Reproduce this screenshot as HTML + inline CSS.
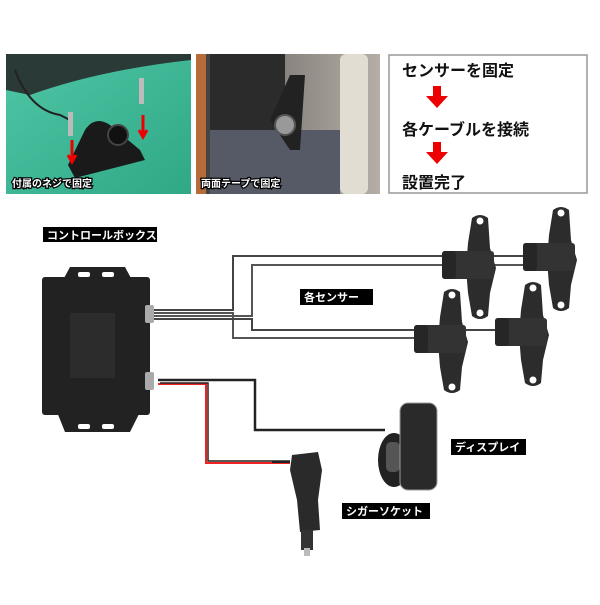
<!DOCTYPE html>
<html><head><meta charset="utf-8"><style>
body{margin:0;background:#fff;width:600px;height:600px;overflow:hidden;font-family:"Liberation Sans","Noto Sans CJK JP",sans-serif}
</style></head><body>
<svg width="600" height="600" xmlns="http://www.w3.org/2000/svg" font-family="Liberation Sans, Noto Sans CJK JP, sans-serif">
<defs>
<linearGradient id="tl" x1="0" y1="0" x2="1" y2="1"><stop offset="0" stop-color="#4fc6a6"/><stop offset="1" stop-color="#2fa886"/></linearGradient>
<linearGradient id="gr" x1="0" y1="0" x2="1" y2="0"><stop offset="0" stop-color="#3a3a3a"/><stop offset=".5" stop-color="#8a8580"/><stop offset="1" stop-color="#b5aea6"/></linearGradient>
<g id="sen">
<path d="M-8 0 Q0 -6 8 0 L10 30 L16 50 L10 75 L8 98 Q0 104 -8 98 L-12 75 L-14 50 L-12 25Z" fill="#2c2c2c"/>
<circle cx="0" cy="3" r="3.5" fill="#fff"/><circle cx="0" cy="95" r="3.5" fill="#fff"/>
<rect x="-38" y="33" width="52" height="28" rx="3" fill="#333"/>
<rect x="-38" y="33" width="14" height="28" rx="3" fill="#262626"/>
</g>
</defs>
<!-- panel 1 -->
<rect x="6" y="54" width="185" height="140" fill="url(#tl)"/>
<path d="M6 54 L191 54 L191 60 Q100 70 30 95 L6 90Z" fill="#2a3a36"/>
<path d="M15 70 Q30 110 60 115 L70 120" stroke="#222" stroke-width="2" fill="none"/>
<path d="M68 165 L85 130 Q95 115 110 125 L140 150 L145 160 L75 178Z" fill="#1a1a1a"/>
<circle cx="118" cy="135" r="10" fill="#111" stroke="#444" stroke-width="2"/>
<rect x="68" y="112" width="5" height="24" fill="#bbb"/><rect x="139" y="78" width="5" height="26" fill="#bbb"/>
<path d="M72 140 L72 160 M68 155 L72 162 L76 155 M143 115 L143 135 M139 130 L143 137 L147 130" stroke="#e00" stroke-width="3" fill="none"/>
<text x="12" y="187" font-size="10" font-weight="bold" fill="#fff" stroke="#000" stroke-width="2.5" paint-order="stroke">付属のネジで固定</text>
<!-- panel 2 -->
<rect x="196" y="54" width="184" height="140" fill="url(#gr)"/>
<rect x="196" y="54" width="10" height="140" fill="#b76a3a"/>
<rect x="210" y="54" width="75" height="80" fill="#2b2b2b"/>
<rect x="210" y="130" width="130" height="64" fill="#565a66"/>
<rect x="340" y="54" width="28" height="140" rx="6" fill="#e2ddd2"/>
<path d="M290 75 L305 75 L300 150 L290 150 L270 120Z" fill="#222"/>
<circle cx="285" cy="125" r="10" fill="#999" stroke="#555" stroke-width="2"/>
<text x="201" y="187" font-size="10" font-weight="bold" fill="#fff" stroke="#000" stroke-width="2.5" paint-order="stroke">両面テープで固定</text>
<!-- panel 3 -->
<rect x="389" y="55" width="198" height="138" fill="#fff" stroke="#999" stroke-width="1.5"/>
<text x="402" y="76" font-size="16" font-weight="bold" fill="#111">センサーを固定</text>
<path d="M433 86 h8 v10 h7 l-11 12 l-11 -12 h7z" fill="#e00"/>
<text x="402" y="135" font-size="16" font-weight="bold" fill="#111">各ケーブルを接続</text>
<path d="M433 142 h8 v10 h7 l-11 12 l-11 -12 h7z" fill="#e00"/>
<text x="402" y="188" font-size="16" font-weight="bold" fill="#111">設置完了</text>
<!-- cables -->
<g fill="none" stroke-width="2">
<path d="M150 310 L233 310 L233 256 L530 256" stroke="#444"/>
<path d="M150 316 L252 316 L252 265 L540 265" stroke="#555"/>
<path d="M150 313 L233 313 L233 338 L420 338" stroke="#555"/>
<path d="M150 319 L252 319 L252 330 L510 330" stroke="#444"/>
<path d="M158 380 L255 380 L255 430 L385 430" stroke="#222" stroke-width="2.5"/>
<path d="M158 384 L206 384 L206 463 L290 463" stroke="#e22"/>
<path d="M160 383 L208 383 L208 461 L290 461" stroke="#222" stroke-width="1.5"/>
</g>
<!-- control box -->
<path d="M70 267 L125 267 L132 280 L63 280Z" fill="#222"/>
<path d="M57 412 L140 412 L130 432 L65 432Z" fill="#222"/>
<rect x="78" y="272" width="12" height="5" rx="2" fill="#fff"/><rect x="102" y="272" width="12" height="5" rx="2" fill="#fff"/>
<rect x="78" y="424" width="12" height="5" rx="2" fill="#fff"/><rect x="102" y="424" width="12" height="5" rx="2" fill="#fff"/>
<rect x="42" y="277" width="108" height="138" rx="3" fill="#222"/>
<rect x="70" y="313" width="45" height="65" fill="#2c2c2c"/>
<rect x="145" y="305" width="9" height="18" rx="2" fill="#aaa"/>
<rect x="145" y="372" width="9" height="18" rx="2" fill="#aaa"/>
<rect x="43" y="227" width="114" height="15" fill="#000"/>
<text x="47" y="239" font-size="11" font-weight="bold" fill="#fff">コントロールボックス</text>
<!-- sensors -->
<use href="#sen" x="480" y="218"/>
<use href="#sen" x="561" y="210"/>
<use href="#sen" x="452" y="292"/>
<use href="#sen" x="533" y="285"/>
<rect x="300" y="289" width="73" height="16" fill="#000"/>
<text x="304" y="301" font-size="11" font-weight="bold" fill="#fff">各センサー</text>
<!-- display -->
<ellipse cx="394" cy="460" rx="16" ry="27" fill="#222"/>
<rect x="386" y="442" width="14" height="30" rx="5" fill="#555"/>
<rect x="400" y="403" width="37" height="87" rx="8" fill="#2a2a2a" stroke="#999" stroke-width="1"/>
<rect x="451" y="439" width="75" height="16" fill="#000"/>
<text x="455" y="451" font-size="11" font-weight="bold" fill="#fff">ディスプレイ</text>
<!-- cigar -->
<path d="M290 462 L272 462" stroke="#222" stroke-width="2"/>
<path d="M292 455 L318 452 L322 470 L318 500 L320 530 L300 532 L297 500 L290 470Z" fill="#2a2a2a"/>
<rect x="301" y="530" width="12" height="20" fill="#333"/>
<rect x="304" y="548" width="6" height="8" fill="#bbb"/>
<rect x="342" y="503" width="88" height="16" fill="#000"/>
<text x="346" y="515" font-size="11" font-weight="bold" fill="#fff">シガーソケット</text>
</svg>
</body></html>
